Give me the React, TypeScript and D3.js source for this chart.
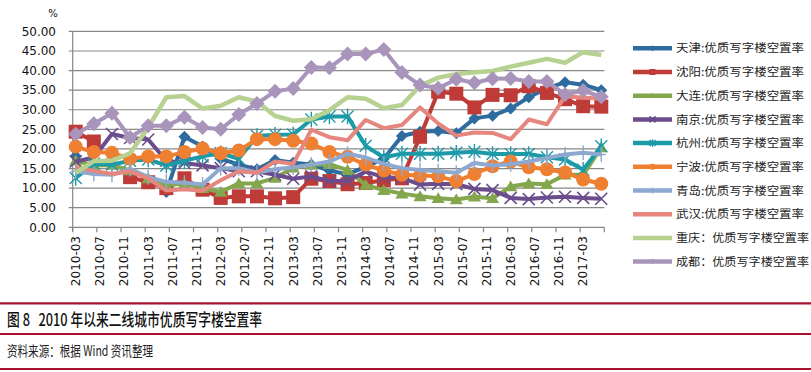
import * as d3 from "d3";
import { useEffect, useRef } from "react";

// quarterly observations
const periods = [
  "2010-03", "2010-06", "2010-09", "2010-12", "2011-03", "2011-06", "2011-09", "2011-12",
  "2012-03", "2012-06", "2012-09", "2012-12", "2013-03", "2013-06", "2013-09", "2013-12",
  "2014-03", "2014-06", "2014-09", "2014-12", "2015-03", "2015-06", "2015-09", "2015-12",
  "2016-03", "2016-06", "2016-09", "2016-12", "2017-03", "2017-06",
];

const tickLabels = [
  "2010-03", "2010-07", "2010-11", "2011-03", "2011-07", "2011-11", "2012-03", "2012-07",
  "2012-11", "2013-03", "2013-07", "2013-11", "2014-03", "2014-07", "2014-11", "2015-03",
  "2015-07", "2015-11", "2016-03", "2016-07", "2016-11", "2017-03",
];
const axisEnd = "2017-07";

const yTicks = [0, 5, 10, 15, 20, 25, 30, 35, 40, 45, 50];

type V = number | null;

const tianjin: V[] = [18.2, null, null, null, null, 9.0, 23.1, 20.6, 17.5, 16.0, 14.8, 17.2, 16.5, 16.0, 14.5, 13.5, 15.5, 17.5, 23.3, 24.4, 24.6, 24.0, 27.8, 28.5, 30.3, 33.2, 35.5, 37.0, 36.4, 35.0];
const shenyang: V[] = [24.4, 21.9, null, 12.8, 11.5, 10.0, 12.5, 9.6, 7.5, 7.9, 7.9, 7.4, 7.7, 12.4, 11.8, 11.0, 11.3, 12.0, 12.5, 23.1, 34.6, 34.1, 30.6, 33.8, 33.7, 36.0, 34.3, 32.7, 30.9, 30.8];
const dalian: V[] = [17.0, 15.8, 15.9, 14.5, 12.5, 10.8, 11.2, 10.0, 9.0, 11.2, 11.2, 12.6, 15.2, 16.0, 16.1, 14.6, 10.8, 9.5, 8.6, 7.9, 7.4, 7.1, 7.8, 7.4, 10.4, 11.2, 11.0, 13.4, 13.4, 20.4];
const nanjing: V[] = [16.8, 17.8, 23.8, 22.8, 22.4, 17.0, 16.4, 15.8, 15.1, 14.3, 14.3, 13.4, 12.4, 13.0, 11.8, 11.9, 14.2, 12.8, 12.6, 10.9, 11.1, 11.0, 9.8, 9.5, 7.5, 7.2, 7.6, 7.8, 7.5, 7.3];
const hangzhou: V[] = [12.6, 16.2, 16.0, 17.0, 17.3, 15.8, 17.0, 18.1, 18.9, 17.5, 23.3, 23.6, 23.7, 27.5, 28.3, 28.3, 20.8, 17.8, 18.8, 18.8, 18.8, 19.0, 19.3, 18.7, 18.7, 18.7, 17.9, 17.3, 14.7, 20.7];
const ningbo: V[] = [20.6, 19.2, 19.0, 17.5, 18.1, 18.1, 19.2, 20.1, 18.9, 19.6, 22.5, 22.5, 22.1, 21.4, 19.2, 18.0, 16.0, 14.5, 13.4, 13.2, 13.0, 11.8, 13.6, 15.6, 16.8, 15.3, 14.8, 14.0, 12.2, 11.1];
const qingdao: V[] = [14.3, 13.6, 13.4, 14.9, 12.8, 11.6, 11.4, 10.9, 15.1, 15.1, 14.0, 14.8, 15.3, 16.0, 16.8, 18.8, 17.8, 16.2, 15.1, 14.6, 14.3, 13.9, 16.4, 15.8, 16.1, 16.8, 17.7, 18.6, 19.0, 18.6];
const wuhan: V[] = [15.3, 14.4, 13.6, 14.3, 12.5, 9.4, 9.7, 9.3, 12.0, 14.3, 13.9, 16.8, 16.2, 24.9, 23.0, 22.2, 27.4, 25.3, 26.1, 30.6, 26.5, 23.4, 24.2, 24.1, 22.5, 27.5, 26.3, 33.4, 33.1, 32.8];
const chongqing: V[] = [13.9, 16.9, 17.0, 18.9, 25.5, 33.2, 33.5, 30.3, 31.0, 33.2, 32.1, 28.4, 27.2, 27.6, 29.9, 33.2, 32.8, 30.4, 31.2, 36.1, 38.2, 39.1, 39.6, 39.9, 41.0, 42.0, 43.0, 42.0, 44.7, 44.0];
const chengdu: V[] = [23.8, 26.4, 29.1, 22.9, 25.9, 25.9, 28.1, 25.5, 25.0, 28.8, 31.6, 34.7, 35.4, 40.8, 40.7, 44.2, 44.2, 45.4, 39.5, 36.3, 35.5, 37.8, 36.9, 37.9, 38.0, 37.2, 37.2, 33.9, 34.9, 33.3];

const seriesNames = [
  "天津:优质写字楼空置率", "沈阳:优质写字楼空置率", "大连:优质写字楼空置率",
  "南京:优质写字楼空置率", "杭州:优质写字楼空置率", "宁波:优质写字楼空置率",
  "青岛:优质写字楼空置率", "武汉:优质写字楼空置率", "重庆：优质写字楼空置率",
  "成都：优质写字楼空置率",
];
const colors = ["#2E6B9F", "#BE3B38", "#84A64C", "#6B4C8D", "#1C9AA8", "#EF7F31", "#8DA9D0", "#E5877F", "#B6D190", "#A994BB"];
const markers = ["diamond", "square", "triangle", "x", "star", "circle", "plus", "none", "none", "bigdiamond"];
const values = [tianjin, shenyang, dalian, nanjing, hangzhou, ningbo, qingdao, wuhan, chongqing, chengdu];

const monthIdx = (s: string) => {
  const [y, m] = s.split("-").map(Number);
  return y * 12 + m - 1;
};

const drawMarker = (g: any, kind: string, color: string, s: number) => {
  if (kind === "diamond" || kind === "bigdiamond") {
    g.append("path").attr("d", `M0,${-s}L${s},0L0,${s}L${-s},0Z`).attr("fill", color);
  } else if (kind === "square") {
    g.append("rect").attr("x", -s).attr("y", -s).attr("width", 2 * s).attr("height", 2 * s).attr("fill", color);
  } else if (kind === "triangle") {
    g.append("path").attr("d", `M0,${-s}L${s * 1.1},${s * 0.8}L${-s * 1.1},${s * 0.8}Z`).attr("fill", color);
  } else if (kind === "circle") {
    g.append("circle").attr("r", s).attr("fill", color);
  } else if (kind === "x") {
    g.append("path").attr("d", `M${-s},${-s}L${s},${s}M${-s},${s}L${s},${-s}`).attr("stroke", color).attr("stroke-width", 1.6);
  } else if (kind === "star") {
    g.append("path").attr("d", `M${-s},${-s}L${s},${s}M${-s},${s}L${s},${-s}M0,${-s * 1.3}L0,${s * 1.3}`).attr("stroke", color).attr("stroke-width", 1.4);
  } else if (kind === "plus") {
    g.append("path").attr("d", `M0,${-s}L0,${s}M${-s * 0.6},0L${s * 0.6},0`).attr("stroke", color).attr("stroke-width", 1.4);
  }
};

const W = 811;
const H = 372;

const Chart = () => {
  const ref = useRef<SVGSVGElement | null>(null);

  useEffect(() => {
    if (!ref.current) return;
    const svg = d3.select(ref.current);
    svg.selectAll("*").remove();

    const left = 72.7, right = 604.3, top = 31.4, bottom = 227.3;
    const x = d3.scaleLinear().domain([monthIdx(periods[0]), monthIdx(axisEnd)]).range([left, right]);
    const y = d3.scaleLinear().domain([0, 50]).range([bottom, top]);
    const axisFont = "'DejaVu Sans', Verdana, sans-serif";

    svg.append("rect").attr("width", W).attr("height", H).attr("fill", "#fff");

    // gridlines + y labels
    const gy = svg.append("g");
    yTicks.forEach((t) => {
      gy.append("line")
        .attr("x1", left - 4).attr("x2", right)
        .attr("y1", y(t)).attr("y2", y(t))
        .attr("stroke", "#878787").attr("stroke-width", 1.2);
      gy.append("text")
        .attr("x", 56).attr("y", y(t)).attr("dy", "0.36em")
        .attr("text-anchor", "end")
        .attr("font-family", axisFont).attr("font-size", 12).attr("fill", "#111")
        .text(t.toFixed(2));
    });
    svg.append("line").attr("x1", left).attr("x2", left).attr("y1", top).attr("y2", bottom + 4)
      .attr("stroke", "#878787").attr("stroke-width", 1.2);
    svg.append("text").attr("x", 53).attr("y", 17).attr("text-anchor", "middle")
      .attr("font-family", axisFont).attr("font-size", 10).attr("fill", "#111").text("%");

    // x ticks + labels
    const gx = svg.append("g");
    [...tickLabels, axisEnd].forEach((t) => {
      const xx = x(monthIdx(t));
      gx.append("line").attr("x1", xx).attr("x2", xx).attr("y1", bottom).attr("y2", bottom + 5)
        .attr("stroke", "#878787").attr("stroke-width", 1.2);
    });
    tickLabels.forEach((t) => {
      const xx = x(monthIdx(t) + 0.5);
      gx.append("text")
        .attr("transform", `translate(${xx},236) rotate(-90)`)
        .attr("dy", "0.36em")
        .attr("text-anchor", "end")
        .attr("font-family", axisFont).attr("font-size", 12).attr("fill", "#111")
        .text(t);
    });

    // series
    const px = (i: number) => x(monthIdx(periods[i]) + 0.5);
    const line = d3.line<V>()
      .defined((d) => d != null)
      .x((_, i) => px(i))
      .y((d) => y(d as number));

    values.forEach((vals, si) => {
      const g = svg.append("g");
      g.append("path")
        .attr("d", line(vals))
        .attr("fill", "none")
        .attr("stroke", colors[si])
        .attr("stroke-width", si === 8 ? 4.5 : 4)
        .attr("stroke-linejoin", "round");
      const size: Record<string, number> = { diamond: 6, bigdiamond: 7.5, square: 7, triangle: 6, circle: 7, x: 6, star: 6, plus: 7.5 };
      if (markers[si] !== "none") {
        vals.forEach((v, i) => {
          if (v == null) return;
          const mg = g.append("g").attr("transform", `translate(${px(i)},${y(v)})`);
          drawMarker(mg, markers[si], colors[si], size[markers[si]]);
        });
      }
    });

    // legend
    const lg = svg.append("g");
    seriesNames.forEach((name, i) => {
      const ly = 48.3 + i * 23.7;
      lg.append("line").attr("x1", 633).attr("x2", 672).attr("y1", ly).attr("y2", ly)
        .attr("stroke", colors[i]).attr("stroke-width", 4.5);
      if (markers[i] !== "none") {
        const mg = lg.append("g").attr("transform", `translate(652.5,${ly})`);
        drawMarker(mg, markers[i], colors[i], 3);
      }
      lg.append("text")
        .attr("x", 676).attr("y", ly).attr("dy", "0.38em")
        .attr("font-family", "'Noto Sans CJK SC', sans-serif").attr("font-size", 11)
        .attr("fill", "#222")
        .attr("textLength", i >= 8 ? 133 : 128).attr("lengthAdjust", "spacingAndGlyphs")
        .text(name);
    });

    // caption block
    const red = "#A8102E";
    [303.3, 334, 369].forEach((ly) => {
      svg.append("line").attr("x1", 0).attr("x2", W).attr("y1", ly).attr("y2", ly)
        .attr("stroke", red).attr("stroke-width", 2.2);
    });
    svg.append("text")
      .attr("x", 7).attr("y", 320).attr("dy", "0.36em")
      .attr("font-family", "'Noto Sans CJK SC', sans-serif").attr("font-size", 17)
      .attr("font-weight", 500).attr("fill", "#111")
      .attr("textLength", 255).attr("lengthAdjust", "spacingAndGlyphs")
      .style("white-space", "pre")
      .text("图 8   2010 年以来二线城市优质写字楼空置率");
    svg.append("text")
      .attr("x", 7).attr("y", 351).attr("dy", "0.36em")
      .attr("font-family", "'Noto Sans CJK SC', sans-serif").attr("font-size", 14)
      .attr("fill", "#222")
      .attr("textLength", 146).attr("lengthAdjust", "spacingAndGlyphs")
      .style("white-space", "pre")
      .text("资料来源：根据 Wind 资讯整理");
  }, []);

  return <svg ref={ref} width={W} height={H} style={{ position: "absolute", left: 0, top: 0 }} />;
};

export default function App() {
  return <Chart />;
}
